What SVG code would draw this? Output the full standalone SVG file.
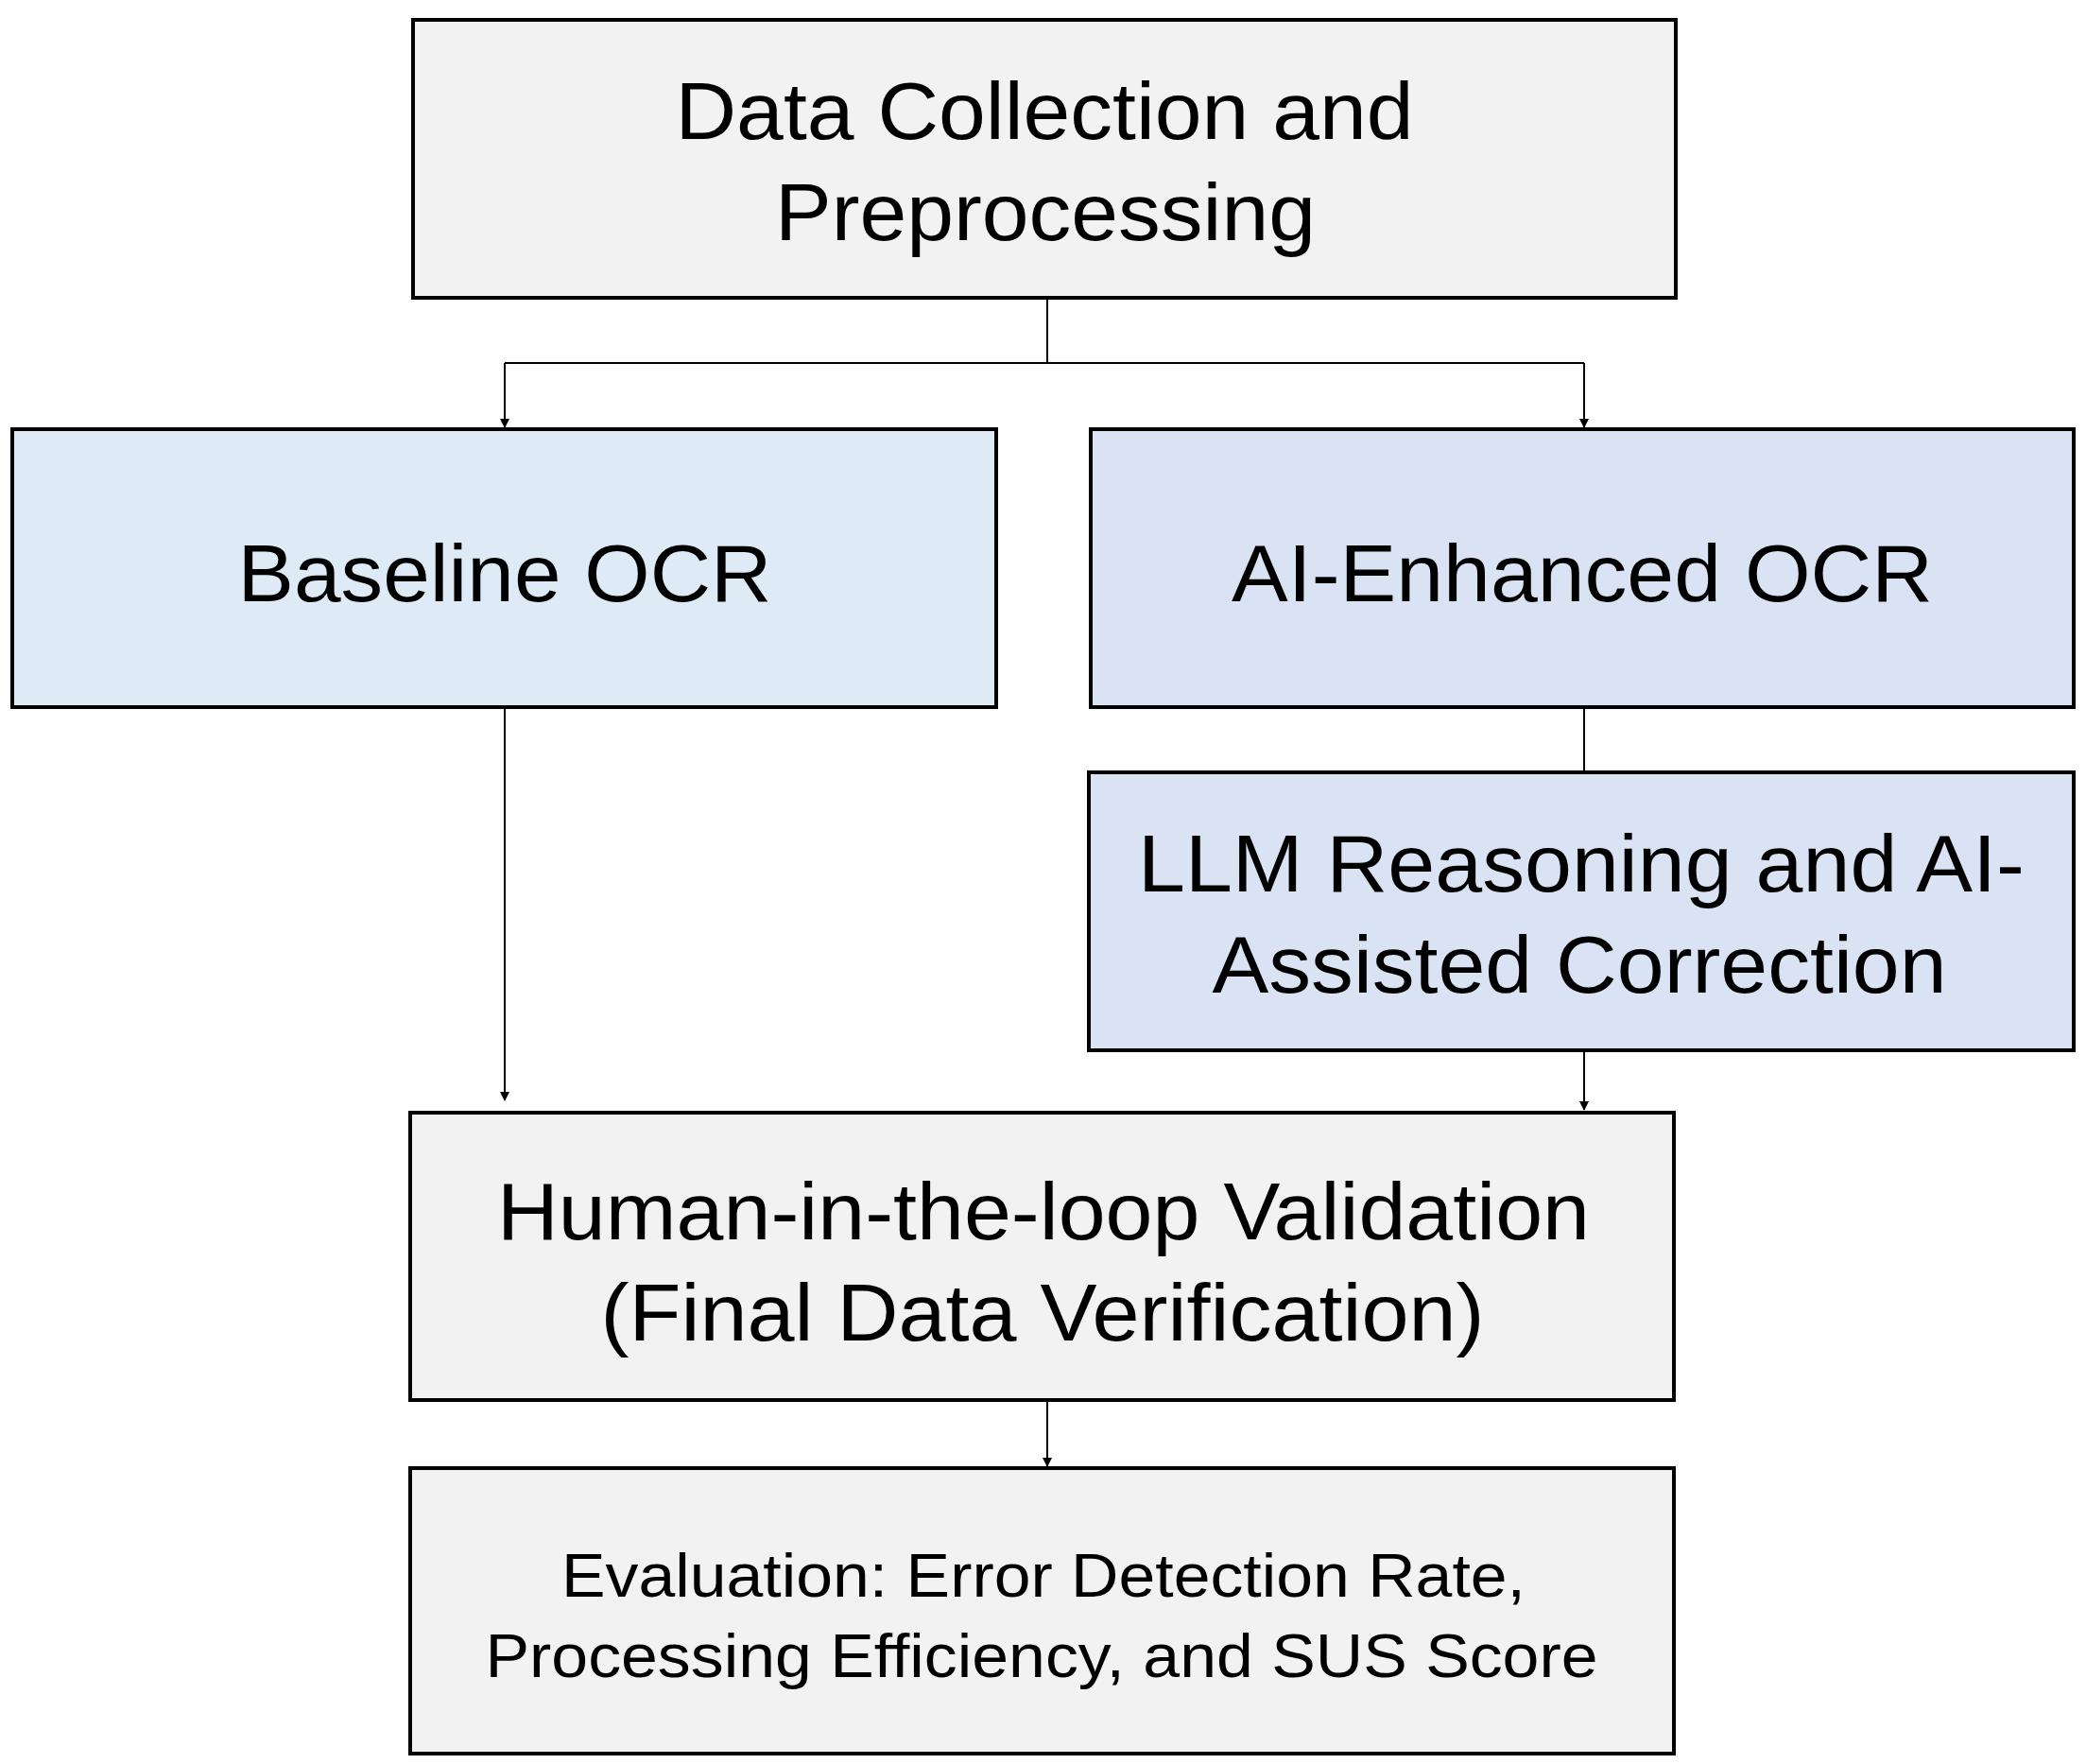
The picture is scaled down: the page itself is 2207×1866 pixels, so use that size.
<svg xmlns="http://www.w3.org/2000/svg" width="2207" height="1866" viewBox="0 0 2207 1866">
<style>
.box{stroke:#000;stroke-width:4}
.g{fill:#f2f2f2}.b1{fill:#deebf7}.b2{fill:#dae3f3}
text{font-family:"Liberation Sans",Arial,sans-serif;font-size:85px;fill:#000;text-anchor:middle}
.s{font-size:64px}
.c{stroke:#000;stroke-width:2;fill:none}
</style>
<defs><marker id="a" markerWidth="10" markerHeight="10" refX="9" refY="5" orient="auto" markerUnits="userSpaceOnUse" viewBox="0 0 10 10"><path d="M0,0L10,5L0,10z" fill="#000"/></marker></defs>
<rect width="2207" height="1866" fill="#fff"/>
<g id="connectors">
<path class="c" d="M1108,315V384"/>
<path class="c" d="M534,384H1676"/>
<path class="c" d="M534,384V452" marker-end="url(#a)" style="stroke-width:2"/>
<path class="c" d="M1676,384V452" marker-end="url(#a)"/>
<path class="c" d="M1676,748V817"/>
<path class="c" d="M534,748V1164" marker-end="url(#a)"/>
<path class="c" d="M1676,1111V1174" marker-end="url(#a)"/>
<path class="c" d="M1108,1481V1551" marker-end="url(#a)"/>
</g>
<g id="data"><rect class="box g" x="437" y="21" width="1336" height="294"/>
<text x="1105" y="147" textLength="781" lengthAdjust="spacingAndGlyphs">Data Collection and</text>
<text x="1106" y="254" textLength="572" lengthAdjust="spacingAndGlyphs">Preprocessing</text></g>
<g id="baseline"><rect class="box b1" x="13" y="454" width="1041" height="294"/>
<text x="534" y="636" textLength="565" lengthAdjust="spacingAndGlyphs">Baseline OCR</text></g>
<g id="ai"><rect class="box b2" x="1154" y="454" width="1040" height="294"/>
<text x="1674" y="636" textLength="742" lengthAdjust="spacingAndGlyphs">AI-Enhanced OCR</text></g>
<g id="llm"><rect class="box b2" x="1152" y="817" width="1042" height="294"/>
<text x="1673" y="943" textLength="938" lengthAdjust="spacingAndGlyphs">LLM Reasoning and AI-</text>
<text x="1671" y="1050" textLength="777" lengthAdjust="spacingAndGlyphs">Assisted Correction</text></g>
<g id="human"><rect class="box g" x="434" y="1177" width="1337" height="304"/>
<text x="1104" y="1311" textLength="1156" lengthAdjust="spacingAndGlyphs">Human-in-the-loop Validation</text>
<text x="1103" y="1418" textLength="935" lengthAdjust="spacingAndGlyphs">(Final Data Verification)</text></g>
<g id="eval"><rect class="box g" x="434" y="1553" width="1337" height="302"/>
<text class="s" x="1104" y="1689" textLength="1020" lengthAdjust="spacingAndGlyphs">Evaluation: Error Detection Rate,</text>
<text class="s" x="1102" y="1774" textLength="1177" lengthAdjust="spacingAndGlyphs">Processing Efficiency, and SUS Score</text></g>
</svg>
